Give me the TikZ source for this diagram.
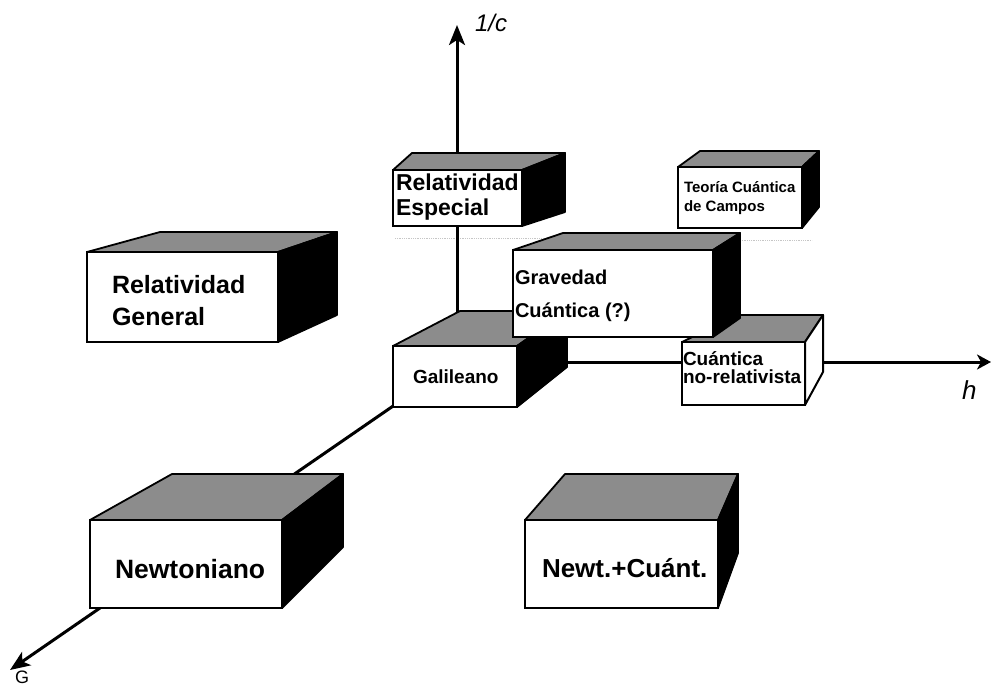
\documentclass[tikz,border=0pt]{standalone}
\usepackage{fontspec}
\setmainfont{Liberation Sans}
\usetikzlibrary{arrows.meta}

\tikzset{
  axis/.style={line width=3pt, -{Stealth[length=20pt,width=16pt,inset=5pt]}},
  topface/.style={fill=black!45, draw=black, line width=1.8pt, line join=round},
  solidside/.style={fill=black, draw=black, line width=1.8pt, line join=round},
  openside/.style={fill=white, draw=black, line width=2pt, line join=round},
  boxside/.style={solidside},
  frontface/.style={draw=black, fill=white, line width=2pt, inner sep=0pt, outer sep=0pt},
  boxtext/.style={anchor=base west, inner sep=0pt, outer sep=0pt},
  axlabel/.style={anchor=base west, inner sep=0pt, outer sep=0pt},
  ghost/.style={draw=gray!45, line width=0.8pt, densely dotted},
}

% A box seen in perspective: front rectangle (x1,y1)-(x2,y2),
% back face spanning bx1..bx2 horizontally and by1..by2 vertically.
\newcommand\perspbox[9]{%
  \path[topface] (#2,#3) -- (#6,#7) -- (#8,#7) -- (#4,#3) -- cycle;
  \path[boxside] (#4,#3) -- (#8,#7) -- (#8,#9) -- (#4,#5) -- cycle;
  \node[frontface, anchor=north west,
        minimum width={(#4-#2)*1pt}, minimum height={(#5-#3)*1pt}] (#1) at (#2,#3) {};
}

\begin{document}
\begin{tikzpicture}[x=1pt, y=-1pt]
\useasboundingbox (0,0) rectangle (992,687);

% faint guide lines
\draw[ghost] (395,238) -- (560,238);
\draw[ghost] (740,240) -- (812,240);

% axes
\coordinate (O) at (457,362);
\coordinate (ctip) at (457,25);
\coordinate (htip) at (991,362);
\coordinate (gtip) at (10,670);
\draw[axis] (O) -- (ctip);
\draw[line width=3pt, -{Stealth[length=14pt,width=15pt,inset=4pt]}] (O) -- (htip);
\draw[line width=3pt, -{Stealth[length=20pt,width=16pt,inset=5pt]}] (O) -- (gtip);

\node[axlabel, font=\itshape\fontsize{24}{28}\selectfont] (lc) at (475,32) {1/c};
\node[axlabel, font=\itshape\fontsize{26}{30}\selectfont] (lh) at (962,399) {h};
\node[axlabel, font=\fontsize{18}{22}\selectfont] (lg) at (15,683) {G};

% boxes, back to front
\perspbox{relgen}{87}{252}{278}{342}{160}{232}{337}{315}
\node[boxtext, font=\bfseries\fontsize{25}{30}\selectfont] (relgen1) at (112,293) {Relatividad};
\node[boxtext, font=\bfseries\fontsize{25}{30}\selectfont] (relgen2) at (112,325) {General};

\perspbox{relesp}{393}{170}{522}{226}{412}{153}{565}{212}
\node[boxtext, font=\bfseries\fontsize{23}{28}\selectfont] (relesp1) at (396,190) {Relatividad};
\node[boxtext, font=\bfseries\fontsize{23}{28}\selectfont] (relesp2) at (396,215) {Especial};

\perspbox{tcc}{678}{167}{802}{228}{700}{151}{819}{207}
\node[boxtext, font=\bfseries\fontsize{15}{18}\selectfont] (tcc1) at (684,193) {Teoría Cuántica};
\node[boxtext, font=\bfseries\fontsize{15}{18}\selectfont] (tcc2) at (684,211) {de Campos};

\perspbox{gal}{393}{346}{517}{407}{460}{311}{567}{367}
\node[boxtext, font=\bfseries\fontsize{19}{22}\selectfont] (gal1) at (413,383) {Galileano};

\begin{scope}[boxside/.style={openside}]
\perspbox{qnr}{682}{342}{805}{405}{738}{315}{823}{372}
\end{scope}
\node[boxtext, font=\bfseries\fontsize{19}{22}\selectfont] (qnr1) at (683,365) {Cuántica};
\node[boxtext, font=\bfseries\fontsize{19}{22}\selectfont] (qnr2) at (683,383) {no-relativista};

\perspbox{grav}{513}{250}{713}{337}{563}{233}{740}{318}
\node[boxtext, font=\bfseries\fontsize{20}{24}\selectfont] (grav1) at (515,284) {Gravedad};
\node[boxtext, font=\bfseries\fontsize{20}{24}\selectfont] (grav2) at (515,317) {Cuántica (?)};

\perspbox{newt}{90}{520}{282}{608}{172}{474}{343}{547}
\node[boxtext, font=\bfseries\fontsize{26.5}{30}\selectfont] (newt1) at (115,578) {Newtoniano};

\perspbox{nq}{525}{520}{718}{608}{565}{474}{738}{553}
\node[boxtext, font=\bfseries\fontsize{26}{30}\selectfont] (nq1) at (542,577) {Newt.+Cuánt.};
\end{tikzpicture}
\end{document}
